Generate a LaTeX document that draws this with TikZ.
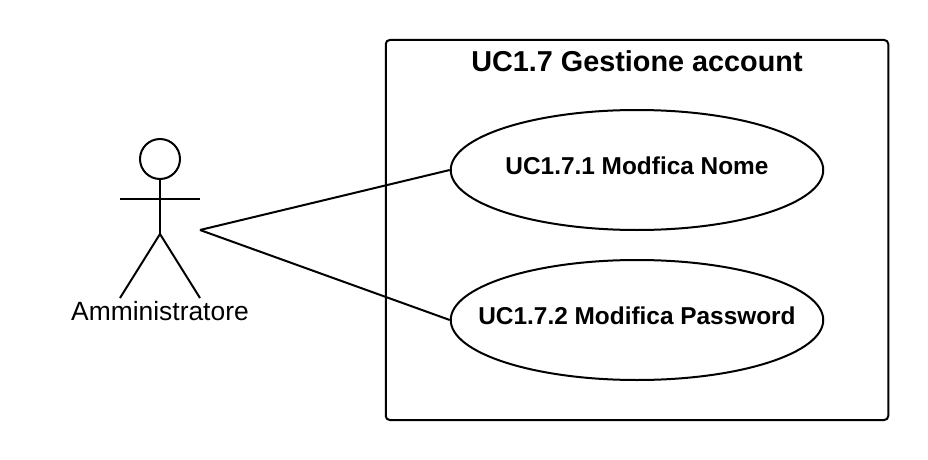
\documentclass[tikz,border=0pt]{standalone}
\usepackage{fontspec}
\setmainfont{Liberation Sans}
\usetikzlibrary{shapes.geometric}
\newcommand{\unit}{pt*0.75}
\tikzset{
  usecase/.style={draw, ellipse, minimum width=372.5\unit, minimum height=120\unit, inner sep=0pt},
  caselabel/.style={font=\bfseries\fontsize{18.3}{22}\selectfont}
}
\begin{document}
\begin{tikzpicture}[x=0.75pt, y=-0.75pt, line width=1.5pt]
    \useasboundingbox (0,0) rectangle (928,460);
    \node[draw, rounded corners=3pt, minimum width=502.5\unit, minimum height=380\unit, inner sep=0pt] (system) at (637,230) {};
    \node[font=\bfseries\fontsize{21.6}{26}\selectfont] (title) at (637,61) {UC1.7 Gestione account};

    \node[usecase] (nome) at (637,170) {};
    \node[caselabel] (nomelabel) at (637,166) {UC1.7.1 Modfica Nome};
    \node[usecase] (password) at (637,320) {};
    \node[caselabel] (passwordlabel) at (637,316) {UC1.7.2 Modifica Password};

    % attore
    \node[draw, circle, minimum size=40\unit, inner sep=0pt] (head) at (160,159) {};
    \coordinate (hip) at (160,234);
    \coordinate (armleft) at (120,198.5);
    \coordinate (armright) at (200,198.5);
    \coordinate (footleft) at (120,298);
    \coordinate (footright) at (200,298);
    \coordinate (anchor) at (200,230);
    \draw (head.south) -- (hip);
    \draw (armleft) -- (armright);
    \draw (footleft) -- (hip) -- (footright);
    \node[font=\fontsize{19.8}{24}\selectfont] (actor) at (160,311) {Amministratore};

    \draw (anchor) -- (nome.west);
    \draw (anchor) -- (password.west);
\end{tikzpicture}
\end{document}
